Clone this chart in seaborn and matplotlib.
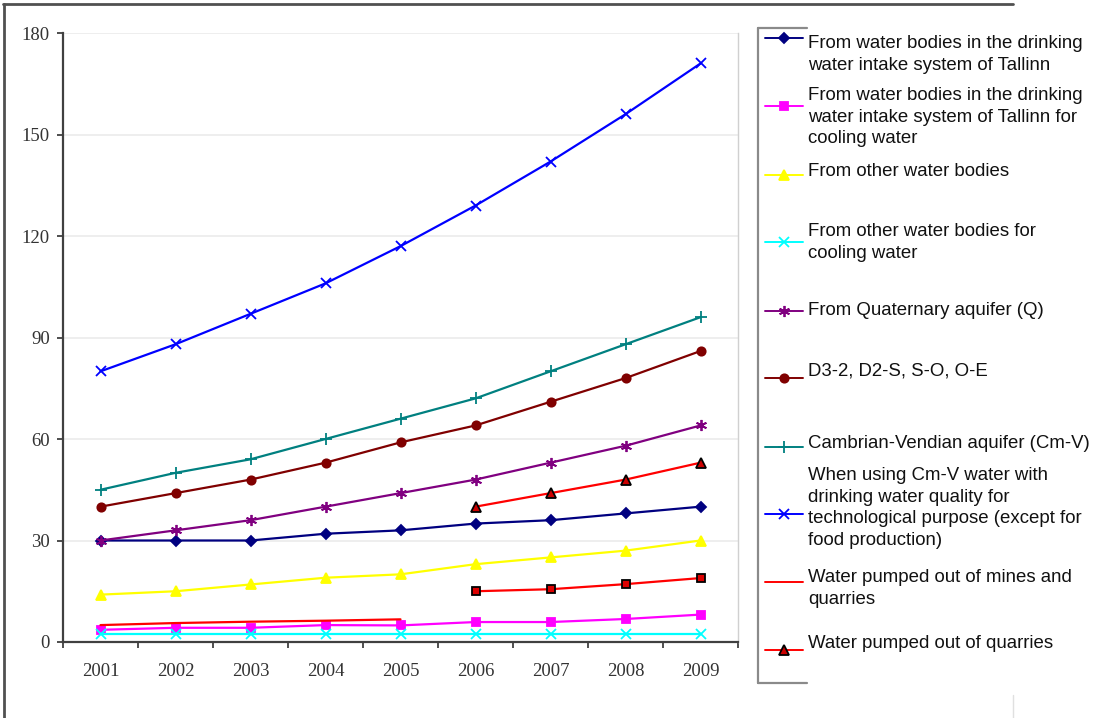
import numpy as np
import pandas as pd
import matplotlib
matplotlib.use("Agg")
import matplotlib.pyplot as plt
from matplotlib.lines import Line2D
import seaborn as sns

nan = np.nan

# data
years = [2001, 2002, 2003, 2004, 2005, 2006, 2007, 2008, 2009]
tallinn = [30, 30, 30, 32, 33, 35, 36, 38, 40]
tallinn_cooling = [3.6, 4.2, 4.2, 5.0, 4.9, 5.9, 5.9, 6.8, 8.1]
other_bodies = [14, 15, 17, 19, 20, 23, 25, 27, 30]
other_cooling = [2.4, 2.4, 2.4, 2.4, 2.4, 2.4, 2.4, 2.4, 2.4]
quaternary = [30, 33, 36, 40, 44, 48, 53, 58, 64]
d3_oe = [40, 44, 48, 53, 59, 64, 71, 78, 86]
cm_v = [45, 50, 54, 60, 66, 72, 80, 88, 96]
cm_v_tech = [80, 88, 97, 106, 117, 129, 142, 156, 171]
mines_quarries = [5.0, 5.6, 6.0, 6.3, 6.7, nan, nan, nan, nan]
quarries = [nan, nan, nan, nan, nan, 40, 44, 48, 53]
quarries_sq = [nan, nan, nan, nan, nan, 15, 15.6, 17.1, 18.9]

labels = [
    "From water bodies in the drinking\nwater intake system of Tallinn",
    "From water bodies in the drinking\nwater intake system of Tallinn for\ncooling water",
    "From other water bodies",
    "From other water bodies for\ncooling water",
    "From Quaternary aquifer (Q)",
    "D3-2, D2-S, S-O, O-E",
    "Cambrian-Vendian aquifer (Cm-V)",
    "When using Cm-V water with\ndrinking water quality for\ntechnological purpose (except for\nfood production)",
    "Water pumped out of mines and\nquarries",
    "Water pumped out of quarries",
]

asterisk = (6, 2, 0)
# (values, color, marker, size, edge color, face color)
styles = [
    (tallinn, "#000080", "D", 5.5, "#000080", "#000080"),
    (tallinn_cooling, "#ff00ff", "s", 6, "#ff00ff", "#ff00ff"),
    (other_bodies, "#ffff00", "^", 7.5, "#ffff00", "#ffff00"),
    (other_cooling, "#00ffff", "x", 7, "#00ffff", "#00ffff"),
    (quaternary, "#800080", asterisk, 8, "#800080", "#800080"),
    (d3_oe, "#800000", "o", 6, "#800000", "#800000"),
    (cm_v, "#008080", "+", 8, "#008080", "#008080"),
    (cm_v_tech, "#0000ff", "x", 7.5, "#0000ff", "#0000ff"),
    (mines_quarries, "#ff0000", None, 0, "#ff0000", "#ff0000"),
    (quarries, "#ff0000", "^", 7, "#000000", "#cc0000"),
]

W, H = 1093, 718
sns.set_style("white")
plt.rcParams["font.family"] = ["Liberation Sans", "DejaVu Sans"]
fig = plt.figure(figsize=(W / 100, H / 100), dpi=100)
ax = fig.add_axes([63 / W, 1 - 642 / H, 675 / W, 609 / H])

for vals, col, mk, ms, mec, mfc in styles:
    df = pd.DataFrame({"year": years, "value": vals}).dropna()
    sns.lineplot(data=df, x="year", y="value", color=col, marker=mk,
                 markersize=ms, markeredgecolor=mec, markerfacecolor=mfc,
                 markeredgewidth=1.3, linewidth=1.6, ax=ax)

df_sq = pd.DataFrame({"year": years, "value": quarries_sq}).dropna()
sns.lineplot(data=df_sq, x="year", y="value", color="#ff0000", marker="s",
             markersize=6, markeredgecolor="#000000", markerfacecolor="#dd0000",
             markeredgewidth=1.3, linewidth=1.6, ax=ax)

ax.set_xlim(2000.5, 2009.5)
ax.set_ylim(0, 180)
ax.set_yticks(range(0, 181, 30))
ax.set_xticks(years)
ax.set_xticks(np.arange(2000.5, 2010, 1), minor=True)
ax.set_xlabel("")
ax.set_ylabel("")
ax.yaxis.grid(True, color="#ebebeb", linewidth=1.2)
ax.set_axisbelow(True)
for side in ["left", "bottom"]:
    ax.spines[side].set_color("#404040")
    ax.spines[side].set_linewidth(1.6)
ax.spines["top"].set_visible(False)
ax.spines["right"].set_color("#d0d0d0")
ax.spines["right"].set_linewidth(1.0)
ax.tick_params(axis="y", left=True, length=4.5, width=1.3, color="#404040",
               pad=5, labelsize=13.5, labelcolor="#333333")
ax.tick_params(axis="x", which="major", bottom=False, length=0, pad=15,
               labelsize=13.5, labelcolor="#333333")
ax.tick_params(axis="x", which="minor", bottom=True, length=4, width=1.3,
               color="#404040")
for t in ax.get_xticklabels() + ax.get_yticklabels():
    t.set_fontfamily(["Liberation Serif", "DejaVu Serif"])

# legend drawn by hand to follow the uneven spacing of the original
def fx(x):
    return x / W

def fy(y):
    return 1 - y / H

key_y = [38, 106, 175, 242, 311, 378, 447, 514, 582, 650]
text_y = [44, 96, 172, 232, 311, 372, 444, 476, 578, 644]
for (vals, col, mk, ms, mec, mfc), lab, ky, ty in zip(styles, labels, key_y, text_y):
    fig.add_artist(Line2D([fx(765), fx(803)], [fy(ky), fy(ky)], color=col,
                          linewidth=1.4, transform=fig.transFigure))
    if mk is not None:
        fig.add_artist(Line2D([fx(784)], [fy(ky)], color=col, marker=mk,
                              markersize=ms, markeredgecolor=mec,
                              markerfacecolor=mfc, markeredgewidth=1.3,
                              transform=fig.transFigure))
    fig.text(fx(808), fy(ty - 9), lab, ha="left", va="top", fontsize=13.4,
             color="#111111", linespacing=1.36)

frame = dict(color="#8a8a8a", linewidth=1.6, transform=fig.transFigure)
fig.add_artist(Line2D([fx(758), fx(758)], [fy(28), fy(683)], **frame))
fig.add_artist(Line2D([fx(758), fx(807)], [fy(28), fy(28)], **frame))
fig.add_artist(Line2D([fx(758), fx(807)], [fy(683), fy(683)], **frame))

outer = dict(color="#505050", linewidth=2.0, transform=fig.transFigure)
fig.add_artist(Line2D([fx(3), fx(1013)], [fy(4), fy(4)], **outer))
fig.add_artist(Line2D([fx(4), fx(4)], [fy(4), fy(718)], **outer))
fig.add_artist(Line2D([fx(1013), fx(1013)], [fy(695), fy(718)],
                      color="#e0e0e0", linewidth=1, transform=fig.transFigure))

fig.savefig("out.png", dpi=100)
